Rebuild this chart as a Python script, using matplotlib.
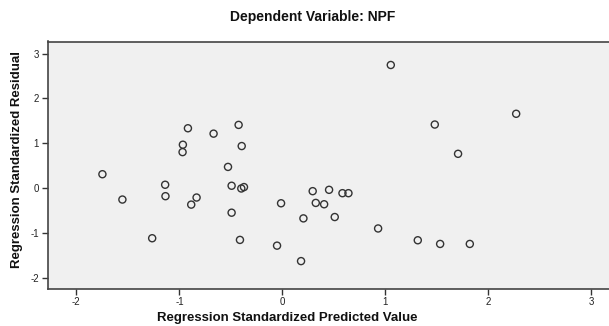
import matplotlib
matplotlib.use("Agg")
import matplotlib.pyplot as plt

predicted = [-1.747, -1.553, -1.264, -1.138, -1.135, -0.966, -0.969, -0.917, -0.885, -0.833,
             -0.668, -0.528, -0.493, -0.493, -0.425, -0.395, -0.399, -0.373, -0.412, -0.052,
             -0.013, 0.181, 0.204, 0.294, 0.324, 0.405, 0.453, 0.508, 0.583, 0.641,
             0.929, 1.052, 1.314, 1.479, 1.531, 1.705, 1.819, 2.269]
residual = [0.31, -0.255, -1.118, 0.075, -0.18, 0.968, 0.803, 1.335, -0.368, -0.21,
            1.215, 0.473, 0.053, -0.548, 1.41, 0.938, -0.008, 0.023, -1.155, -1.283,
            -0.338, -1.628, -0.675, -0.068, -0.33, -0.36, -0.038, -0.645, -0.113, -0.113,
            -0.9, 2.746, -1.163, 1.418, -1.245, 0.765, -1.245, 1.658]
xticks = [-2, -1, 0, 1, 2, 3]
yticks = [-2, -1, 0, 1, 2, 3]
title = "Dependent Variable: NPF"
xlabel = "Regression Standardized Predicted Value"
ylabel = "Regression Standardized Residual"

plt.rcParams['font.family'] = ['Liberation Sans', 'DejaVu Sans']
fig = plt.figure(figsize=(6.09, 3.26), dpi=100)
fig.patch.set_facecolor('white')
W, H = 609, 326
left, right, top, bottom = 47.5, 609, 41.5, 289
ax = fig.add_axes([left / W, 1 - bottom / H, (right - left) / W, (bottom - top) / H])
ax.set_facecolor('#f0f0f0')
ax.scatter(predicted, residual, s=26, facecolors='none', edgecolors='#333333', linewidths=1.0, zorder=3)
ax.set_xlim(-2.28, 3.17)
ax.set_ylim(-2.25, 3.27)
ax.set_xticks(xticks)
ax.set_yticks(yticks)
ax.set_xticklabels([str(t) for t in xticks])
ax.set_yticklabels([str(t) for t in yticks])
ax.tick_params(axis='both', direction='out', length=4, width=1, color='#333333',
               labelsize=7, labelcolor='#222222', pad=2)
for s in ['left', 'bottom', 'top']:
    ax.spines[s].set_color('#444444')
    ax.spines[s].set_linewidth(1.2)
ax.spines['right'].set_visible(False)
fig.text(313 / W, 1 - 17 / H, title, ha='center', va='center', fontsize=10, fontweight='bold', color='#111111')
fig.text(287 / W, 1 - 318 / H, xlabel, ha='center', va='center', fontsize=9.5, fontweight='bold', color='#111111')
fig.text(17 / W, 1 - 159 / H, ylabel, ha='center', va='center', rotation=90, fontsize=9.5, fontweight='bold', color='#111111')
fig.savefig("out.png", dpi=100)
